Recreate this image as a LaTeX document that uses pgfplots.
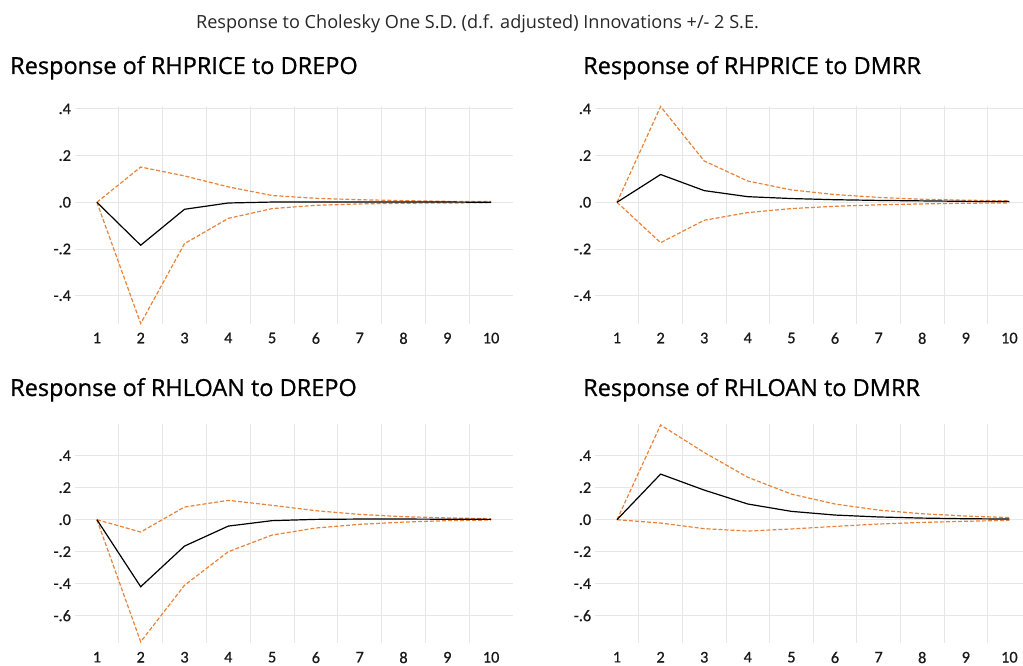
\documentclass[border=0pt]{standalone}
\usepackage{pgfplots}
\pgfplotsset{compat=1.18}
\usepackage{pgfplotstable}
\usepackage{fontspec}
\setmainfont{Open Sans}
\newfontfamily\titlefont{Open Sans}[FakeBold=0.8]
\newfontfamily\tickfont{Carlito}[FakeBold=0.7]
\definecolor{bandorange}{HTML}{E9823A}
\definecolor{gridgray}{HTML}{E6E6E6}
\definecolor{zerogray}{HTML}{BDBDBD}

\pgfplotstableread{
x resp up lo
1 0 0 0
2 -0.184 0.151 -0.519
3 -0.030 0.113 -0.177
4 -0.003 0.066 -0.069
5 0.001 0.029 -0.027
6 0.001 0.017 -0.013
7 0.001 0.011 -0.007
8 0.001 0.007 -0.004
9 0.001 0.004 -0.003
10 0.000 0.003 -0.002
}\tabA
\pgfplotstableread{
x resp up lo
1 0 0 0
2 0.119 0.410 -0.173
3 0.050 0.177 -0.077
4 0.024 0.091 -0.044
5 0.016 0.053 -0.027
6 0.011 0.033 -0.017
7 0.008 0.021 -0.011
8 0.006 0.013 -0.007
9 0.004 0.009 -0.004
10 0.003 0.006 -0.003
}\tabB
\pgfplotstableread{
x resp up lo
1 0 0 0
2 -0.419 -0.077 -0.763
3 -0.165 0.079 -0.410
4 -0.040 0.121 -0.200
5 -0.006 0.090 -0.096
6 0.002 0.056 -0.052
7 0.004 0.033 -0.029
8 0.004 0.019 -0.015
9 0.003 0.011 -0.006
10 0.002 0.006 -0.002
}\tabC
\pgfplotstableread{
x resp up lo
1 0 0 0
2 0.285 0.592 -0.021
3 0.185 0.420 -0.056
4 0.098 0.265 -0.071
5 0.052 0.160 -0.058
6 0.029 0.098 -0.042
7 0.017 0.060 -0.027
8 0.010 0.037 -0.017
9 0.006 0.023 -0.010
10 0.004 0.013 -0.004
}\tabD

\pgfplotsset{
  irf/.style={
    scale only axis,
    anchor=south west,
    xmin=0.5, xmax=10.5,
    xtick={1,2,3,4,5,6,7,8,9,10},
    xticklabels={1,2,3,4,5,6,7,8,9,10},
    minor xtick={1.5,2.5,3.5,4.5,5.5,6.5,7.5,8.5,9.5},
    minor x grid style={gridgray, line width=0.9pt},
    xminorgrids=true,
    ymajorgrids=true,
    major grid style={gridgray, line width=0.9pt},
    major tick length=0pt, minor tick length=0pt,
    axis line style={draw=none},
    tick style={draw=none},
    ticklabel style={font=\tickfont\fontsize{16.3}{16.3}\selectfont, text=black!90},
    xticklabel style={yshift=-5.5pt},
    yticklabel style={xshift=-0.5pt},
    extra y ticks={0},
    extra y tick labels={},
    extra y tick style={grid style={zerogray, line width=1.6pt}},
    clip=false,
  },
  resp/.style={black, line width=1.2pt},
  band/.style={bandorange, line width=1.2pt, dash pattern=on 4pt off 2pt},
}

\begin{document}
\begin{tikzpicture}[x=1pt,y=1pt]
\useasboundingbox (0pt,0pt) rectangle (1023pt,666pt);
\node[anchor=base, font=\fontsize{18.1}{19}\selectfont, text=black!85] at (477.5pt,637pt) {Response to Cholesky One S.D. (d.f. adjusted) Innovations +/- 2 S.E.};
\node[anchor=base west, inner sep=0pt, font=\titlefont\fontsize{23.5}{26}\selectfont] at (10pt,592pt) {Response of RHPRICE to DREPO};
\node[anchor=base west, inner sep=0pt, font=\titlefont\fontsize{23.5}{26}\selectfont] at (583pt,592pt) {Response of RHPRICE to DMRR};
\node[anchor=base west, inner sep=0pt, font=\titlefont\fontsize{23.5}{26}\selectfont] at (10pt,270pt) {Response of RHLOAN to DREPO};
\node[anchor=base west, inner sep=0pt, font=\titlefont\fontsize{23.5}{26}\selectfont] at (583pt,270pt) {Response of RHLOAN to DMRR};

% top-left
\begin{axis}[irf, at={(75pt,342.3pt)}, width=438pt, height=217.6pt,
  ymin=-0.52, ymax=0.412, ytick={-0.4,-0.2,0,0.2,0.4}, yticklabels={-.4,-.2,.0,.2,.4}]
\addplot[band] table[x=x,y=up] {\tabA};
\addplot[band] table[x=x,y=lo] {\tabA};
\addplot[resp] table[x=x,y=resp] {\tabA};
\end{axis}
% top-right
\begin{axis}[irf, at={(595.2pt,342.3pt)}, width=436pt, height=217.6pt,
  ymin=-0.52, ymax=0.412, ytick={-0.4,-0.2,0,0.2,0.4}, yticklabels={-.4,-.2,.0,.2,.4}]
\addplot[band] table[x=x,y=up] {\tabB};
\addplot[band] table[x=x,y=lo] {\tabB};
\addplot[resp] table[x=x,y=resp] {\tabB};
\end{axis}
% bottom-left
\begin{axis}[irf, at={(75pt,23.1pt)}, width=438pt, height=219.2pt,
  ymin=-0.77, ymax=0.6, ytick={-0.6,-0.4,-0.2,0,0.2,0.4}, yticklabels={-.6,-.4,-.2,.0,.2,.4}]
\addplot[band] table[x=x,y=up] {\tabC};
\addplot[band] table[x=x,y=lo] {\tabC};
\addplot[resp] table[x=x,y=resp] {\tabC};
\end{axis}
% bottom-right
\begin{axis}[irf, at={(595.2pt,23.1pt)}, width=436pt, height=219.2pt,
  ymin=-0.77, ymax=0.6, ytick={-0.6,-0.4,-0.2,0,0.2,0.4}, yticklabels={-.6,-.4,-.2,.0,.2,.4}]
\addplot[band] table[x=x,y=up] {\tabD};
\addplot[band] table[x=x,y=lo] {\tabD};
\addplot[resp] table[x=x,y=resp] {\tabD};
\end{axis}
\end{tikzpicture}
\end{document}
